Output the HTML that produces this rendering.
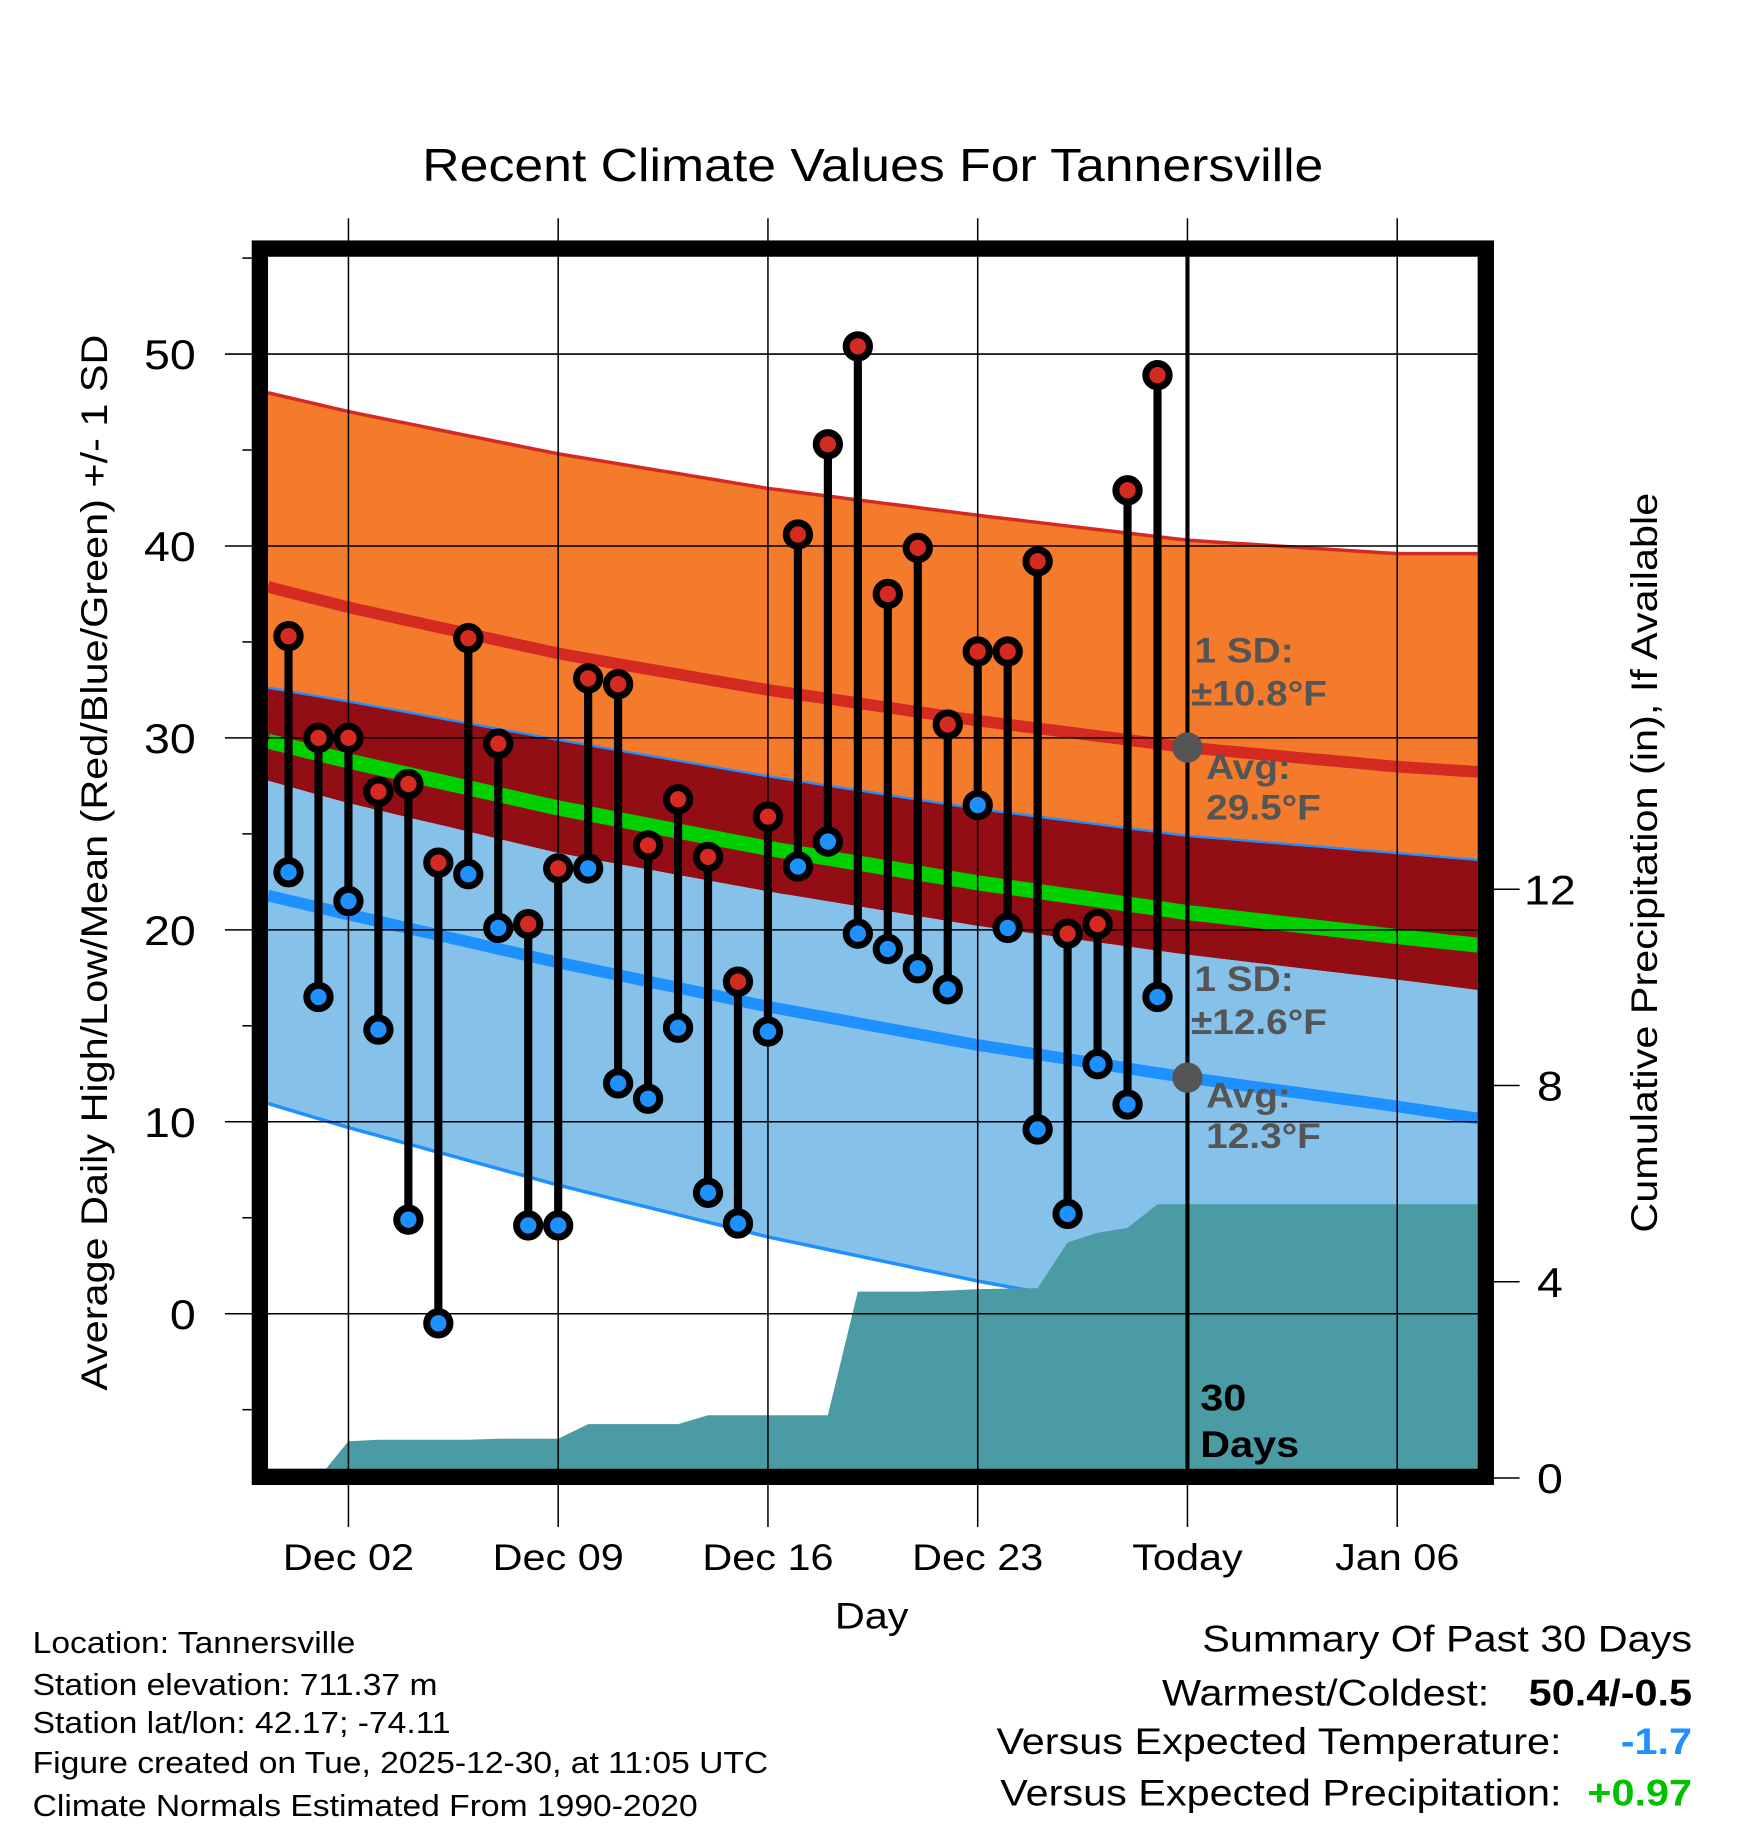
<!DOCTYPE html>
<html><head><meta charset="utf-8"><style>
html,body{margin:0;padding:0;background:#fff;}
svg{display:block;font-family:"Liberation Sans",Arial,sans-serif;}
</style></head><body>
<svg id="chart" width="1748" height="1828" viewBox="0 0 1500 1568" xmlns="http://www.w3.org/2000/svg">
<text x="749" y="155" font-size="40" text-anchor="middle">Recent Climate Values For Tannersville</text>
<g id="bands"></g>
<g id="precip"></g>
<g id="lines"></g>
<g id="grid"></g>
<g id="stems"></g>
<g id="labels"></g>
<rect x="223" y="213" width="1052" height="1054" fill="none" stroke="#000" stroke-width="14"/>
<g id="axes"></g>
<text transform="translate(92,740) rotate(-90)" font-size="32" text-anchor="middle">Average Daily High/Low/Mean (Red/Blue/Green) +/- 1 SD</text>
<text transform="translate(1422,740) rotate(-90)" font-size="32" text-anchor="middle">Cumulative Precipitation (in), If Available</text>
<text x="748" y="1397" font-size="32" text-anchor="middle">Day</text>
<g font-size="26">
<text x="28" y="1418">Location: Tannersville</text>
<text x="28" y="1454">Station elevation: 711.37 m</text>
<text x="28" y="1487">Station lat/lon: 42.17; -74.11</text>
<text x="28" y="1521">Figure created on Tue, 2025-12-30, at 11:05 UTC</text>
<text x="28" y="1558">Climate Normals Estimated From 1990-2020</text>
</g>
<g font-size="32" text-anchor="end">
<text x="1452" y="1417">Summary Of Past 30 Days</text>
<text x="1278" y="1463">Warmest/Coldest:</text>
<text x="1452" y="1463" font-weight="bold">50.4/-0.5</text>
<text x="1340" y="1505">Versus Expected Temperature:</text>
<text x="1452" y="1505" font-weight="bold" fill="#1e90ff">-1.7</text>
<text x="1340" y="1549">Versus Expected Precipitation:</text>
<text x="1452" y="1549" font-weight="bold" fill="#00c000">+0.97</text>
</g>
</svg>
<script>
// Observed data: days from Nov 30 (index 0) to Dec 29
const highs = [35.3,30.0,30.0,27.2,27.6,23.5,35.2,29.7,20.3,23.2,33.1,32.8,24.4,26.8,23.8,17.3,25.9,40.6,45.3,50.4,37.5,39.9,30.7,34.5,34.5,39.2,19.8,20.3,42.9,48.9];
const lows = [23.0,16.5,21.5,14.8,4.9,-0.5,22.9,20.1,4.6,4.6,23.2,12.0,11.2,14.9,6.3,4.7,14.7,23.3,24.6,19.8,19.0,18.0,16.9,26.5,20.1,9.6,5.2,13.0,10.9,16.5];
const precip = [0,0,0.75,0.78,0.78,0.78,0.78,0.8,0.8,0.8,1.1,1.1,1.1,1.1,1.28,1.28,1.28,1.28,1.28,3.8,3.8,3.8,3.82,3.85,3.86,3.87,4.8,5.0,5.1,5.58];
// Normals (day index relative to Nov 30 = 0)
const normDays = [-1,2,9,16,23,30,37,40];
const normHigh = [38.0,36.8,34.4,32.5,30.9,29.5,28.5,28.2];
const normHighSD = [10.1,10.2,10.4,10.5,10.7,10.8,11.1,11.4];
const normLow = [21.9,20.8,18.3,16.0,14.0,12.3,10.8,10.1];
const normLowSD = [10.8,11.1,11.6,12.0,12.3,12.6,13.2,13.5];
const yTicks = [0,10,20,30,40,50];
const pTicks = [0,4,8,12];
const xTickDays = [2,9,16,23,30,37];
const xTickLabels = ["Dec 02","Dec 09","Dec 16","Dec 23","Today","Jan 06"];

const NS="http://www.w3.org/2000/svg";
const L=230,R=1268,T=220,B=1260;
const xs=d=>299+(d-2)*25.714;
const ys=v=>1127-16.47*v;
const yp=p=>1268-42.1*p;
function interp(arr,d){for(let i=0;i<normDays.length-1;i++){if(d<=normDays[i+1]){const t=(d-normDays[i])/(normDays[i+1]-normDays[i]);return arr[i]+t*(arr[i+1]-arr[i]);}}return arr[arr.length-1];}
function mk(tag,attrs,parent){const e=document.createElementNS(NS,tag);for(const k in attrs)e.setAttribute(k,attrs[k]);document.getElementById(parent).appendChild(e);return e;}
const d0=(L-299)/25.714+2,d1=(R-299)/25.714+2;
const samples=[];for(let i=0;i<=80;i++)samples.push(d0+(d1-d0)*i/80);
const f={
 hiTop:d=>interp(normHigh,d)+interp(normHighSD,d),
 hiBot:d=>interp(normHigh,d)-interp(normHighSD,d),
 loTop:d=>interp(normLow,d)+interp(normLowSD,d),
 loBot:d=>interp(normLow,d)-interp(normLowSD,d),
 hi:d=>interp(normHigh,d), lo:d=>interp(normLow,d),
 mean:d=>(interp(normHigh,d)+interp(normLow,d))/2};
const clampY=y=>Math.max(T,Math.min(B,y));
function band(top,bot,fill,name){
 let p=samples.map(d=>xs(d).toFixed(1)+','+clampY(ys(top(d))).toFixed(1));
 p=p.concat(samples.slice().reverse().map(d=>xs(d).toFixed(1)+','+clampY(ys(bot(d))).toFixed(1)));
 const e=mk('polygon',{points:p.join(' '),fill:fill},'bands');
 
 
}
band(f.hiTop,f.loTop,'#f47b2c','high-sd-band');
band(f.loTop,f.hiBot,'#920d14','overlap-band');
band(f.hiBot,f.loBot,'#85c1e9','low-sd-band');
{let pts=[L+','+B,L+','+yp(precip[0])];precip.forEach((p,i)=>pts.push(xs(i).toFixed(1)+','+yp(p).toFixed(1)));
 pts.push(R+','+yp(precip[precip.length-1]).toFixed(1));pts.push(R+','+B);
 const e=mk('polygon',{points:pts.join(' '),fill:'#4a9ba4'},'precip');
 
 }
function line(fn,stroke,w,name){
 const e=mk('polyline',{points:samples.map(d=>xs(d).toFixed(1)+','+clampY(ys(fn(d))).toFixed(1)).join(' '),fill:'none',stroke:stroke,'stroke-width':w},'lines');
 
 
}
line(f.hiTop,'#d42a22',3,'high-sd-upper-line');
line(f.loTop,'#1e90ff',2,'low-sd-upper-line');
line(f.loBot,'#1e90ff',3,'low-sd-lower-line');
line(f.hi,'#d42a22',10,'normal-high-line');
line(f.lo,'#1e90ff',10,'normal-low-line');
line(f.mean,'#00d000',13,'normal-mean-line');
document.getElementById('lines').after(document.getElementById('precip'));
yTicks.forEach(v=>{const e=mk('line',{x1:193,x2:R,y1:ys(v),y2:ys(v),stroke:'#000','stroke-width':1.3},'grid');
 
 
 const t=mk('text',{x:168,y:ys(v)+13,'font-size':36,'text-anchor':'end'},'axes');t.textContent=v;
 
 });
for(let v=-5;v<=55;v+=10){const e=mk('line',{x1:208,x2:216,y1:ys(v),y2:ys(v),stroke:'#000','stroke-width':1.3},'axes');
 
 }
xTickDays.forEach((d,i)=>{const e=mk('line',{x1:xs(d),x2:xs(d),y1:187,y2:1310,stroke:'#000','stroke-width':1.3},'grid');
 
 
 const t=mk('text',{x:xs(d),y:1347,'font-size':32,'text-anchor':'middle'},'axes');t.textContent=xTickLabels[i];
 
 });
pTicks.forEach(p=>{const e=mk('line',{x1:1282,x2:1304,y1:yp(p),y2:yp(p),stroke:'#000','stroke-width':1.3},'axes');
 
 
 const t=mk('text',{x:1330,y:yp(p)+13,'font-size':36,'text-anchor':'middle'},'axes');t.textContent=p;
 
 });
{const e=mk('line',{x1:xs(30),x2:xs(30),y1:T,y2:B,stroke:'#000','stroke-width':3.5},'grid');
 
 }
highs.forEach((h,i)=>{const x=xs(i);
 const s=mk('line',{x1:x,x2:x,y1:ys(h),y2:ys(lows[i]),stroke:'#000','stroke-width':7},'stems');
 
 
 [[h,'#d42a22','high-marker'],[lows[i],'#1e90ff','low-marker']].forEach(([v,c,n])=>{
  const o=mk('circle',{cx:x,cy:ys(v),r:10,fill:c,stroke:'#000','stroke-width':6},'stems');
  
  });});
[[29.5,'today-high-normal-dot'],[12.3,'today-low-normal-dot']].forEach(([v,n])=>{const c=mk('circle',{cx:xs(30),cy:ys(v),r:13,fill:'#555'},'labels');
 
 });
const lbl=[["1 SD:",1025,568],["±10.8°F",1022,605],["Avg:",1035,668],["29.5°F",1035,703],["1 SD:",1025,850],["±12.6°F",1022,887],["Avg:",1035,950],["12.3°F",1035,985]];
lbl.forEach(([s,x,y])=>{const t=mk('text',{x:x,y:y,'font-size':30,'font-weight':'bold',fill:'#555'},'labels');t.textContent=s;
 
 });
[["30",1030,1210],["Days",1030,1250]].forEach(([s,x,y])=>{const t=mk('text',{x:x,y:y,'font-size':32,'font-weight':'bold',fill:'#000'},'labels');t.textContent=s;
 
 });
// horizontal widening to match reference typeface proportions
document.querySelectorAll('#chart text').forEach(t=>{const w=t.getComputedTextLength();if(w>0){t.setAttribute('textLength',(w*1.11).toFixed(1));t.setAttribute('lengthAdjust','spacingAndGlyphs');}});
</script>
</body></html>
